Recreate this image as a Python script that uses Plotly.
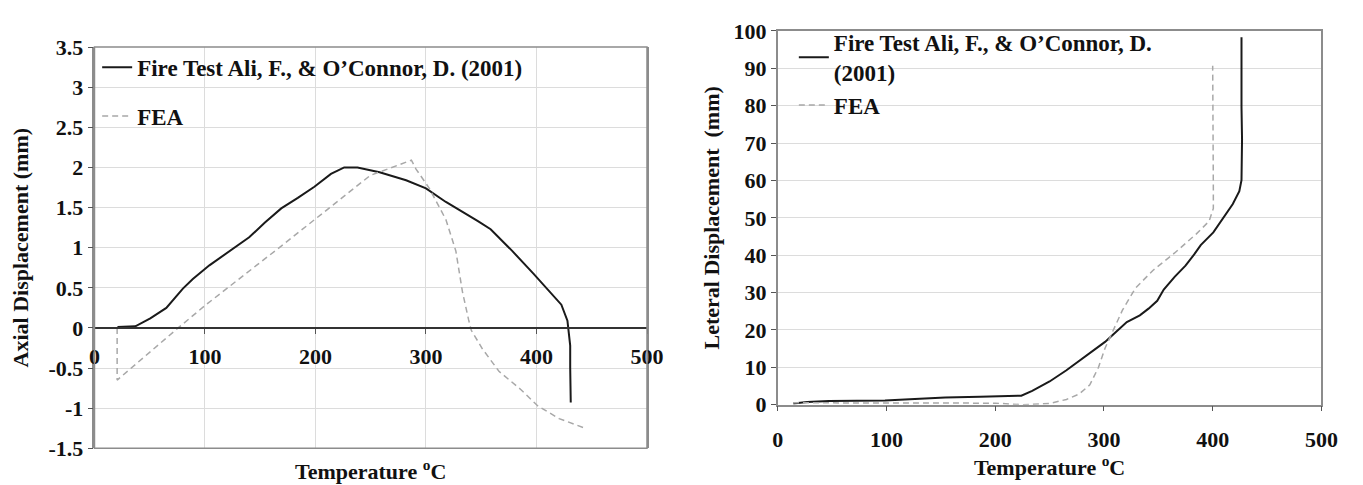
import plotly.graph_objects as go

# Axial displacement vs temperature
axial_test_T = [20.8, 37, 50.5, 65, 80, 89, 104, 122, 140, 154, 169, 184, 199, 214, 226, 238,
                258, 282, 300, 318, 333, 347, 358.5, 378, 397, 413, 422.5, 428, 430.5, 430.5, 431]
axial_test_d = [0.01, 0.02, 0.12, 0.25, 0.49, 0.61, 0.78, 0.96, 1.13, 1.31, 1.49, 1.62, 1.76, 1.92,
                2.0, 2.0, 1.94, 1.84, 1.74, 1.57, 1.45, 1.33, 1.23, 0.96, 0.68, 0.44, 0.29, 0.09,
                -0.22, -0.5, -0.93]
axial_fea_T = [20.5, 20.5, 75.7, 101, 169, 249.5, 286.8, 291, 303, 318, 327, 333, 338.6, 341,
               351, 366, 386, 401, 420.5, 444]
axial_fea_d = [0.0, -0.65, 0.0, 0.29, 1.02, 1.9, 2.09, 1.98, 1.74, 1.35, 0.96, 0.45, 0.1, -0.03,
               -0.26, -0.54, -0.77, -0.97, -1.13, -1.25]

# Lateral displacement vs temperature
lateral_test_T = [14.3, 27, 47, 67, 98.6, 126, 154, 186, 218, 224, 234, 250, 265.5, 277, 289, 301,
                  309, 321, 333, 341, 349, 355, 365, 375, 383, 389, 400.6, 408.6, 418.5, 424.5,
                  426.5, 427, 426.5, 426.5]
lateral_test_d = [0.3, 0.7, 1.0, 1.0, 1.1, 1.5, 1.9, 2.1, 2.2, 2.4, 3.7, 6.2, 9.2, 11.7, 14.4, 16.8,
                  18.9, 22.1, 23.9, 25.7, 27.8, 30.8, 34.2, 37.2, 40.2, 42.7, 46.1, 49.5, 53.7, 57.1,
                  60.1, 71.1, 79.6, 98.3]
lateral_fea_T = [14, 100, 200, 225, 250, 265.5, 277, 287, 295, 301, 309, 317, 329, 345, 365, 385,
                 396.7, 400.6, 400.6, 400]
lateral_fea_d = [0.5, 0.5, 0.4, 0.0, 0.3, 1.4, 2.8, 5.3, 10.0, 15.1, 20.2, 25.3, 31.2, 35.9, 40.6,
                 45.7, 49.1, 52.5, 57.6, 90.7]

# Tick labels
axial_ticks = [3.5, 3, 2.5, 2, 1.5, 1, 0.5, 0, -0.5, -1, -1.5]
axial_tick_text = ["3.5", "3", "2.5", "2", "1.5", "1", "0.5", "0", "-0.5", "-1", "-1.5"]
temp_ticks = [0, 100, 200, 300, 400, 500]
lateral_ticks = [0, 10, 20, 30, 40, 50, 60, 70, 80, 90, 100]

TEST_NAME = "Fire Test Ali, F., & O\u2019Connor, D. (2001)"
TEMP_TITLE = "Temperature <sup>o</sup>C"
FONT = "Liberation Serif"
GRID = "#dcdcdc"
FRAME = "#8c8c8c"
BLACK = "#1a1a1a"
FEA_COL = "#a8a8a8"
FEA_DASH = "6px,4px"

fig = go.Figure()

fig.add_trace(go.Scatter(x=axial_test_T, y=axial_test_d, mode="lines", name=TEST_NAME,
                         line=dict(color=BLACK, width=2),
                         xaxis="x", yaxis="y", legend="legend", legendgroup="a1"))
fig.add_trace(go.Scatter(x=axial_fea_T, y=axial_fea_d, mode="lines", name="FEA",
                         line=dict(color=FEA_COL, width=1.5, dash=FEA_DASH),
                         xaxis="x", yaxis="y", legend="legend", legendgroup="a2"))
fig.add_trace(go.Scatter(x=lateral_test_T, y=lateral_test_d, mode="lines",
                         name="Fire Test Ali, F., & O\u2019Connor, D.<br>(2001)",
                         line=dict(color=BLACK, width=2),
                         xaxis="x2", yaxis="y2", legend="legend2"))
fig.add_trace(go.Scatter(x=lateral_fea_T, y=lateral_fea_d, mode="lines", name="FEA",
                         line=dict(color=FEA_COL, width=1.5, dash=FEA_DASH),
                         xaxis="x2", yaxis="y2", legend="legend2"))

L_X = [90 / 1363, 652 / 1363]
L_Y = [1 - 460 / 485, 1 - 37 / 485]
R_X = [785 / 1363, 1338 / 1363]
R_Y = [1 - 414 / 485, 1 - 20 / 485]
# the left temperature axis crosses the displacement axis at 0
zero_pos = L_Y[0] + (0 - (-1.5)) / 5 * (L_Y[1] - L_Y[0])

tick_font = dict(family=FONT, size=22, color="#111111", weight="bold")
title_font = dict(family=FONT, size=22, color="#111111", weight="bold")
legend_font = dict(family=FONT, size=23, color="#111111", weight="bold")

fig.update_layout(
    width=1363, height=485,
    margin=dict(l=0, r=0, t=0, b=0),
    paper_bgcolor="white", plot_bgcolor="white",
    font=dict(family=FONT, size=22, color="#111111", weight="bold"),
    showlegend=True,
    xaxis=dict(domain=L_X, anchor="free", position=zero_pos, range=[0, 500],
               tickvals=temp_ticks, ticks="outside", ticklen=5, tickcolor="#555555",
               showgrid=True, gridcolor=GRID, showline=True, linecolor="#333333",
               linewidth=1.5, zeroline=False, tickfont=tick_font, ticklabelstandoff=4),
    yaxis=dict(domain=L_Y, anchor="x", range=[-1.5, 3.5], tickvals=axial_ticks,
               ticktext=axial_tick_text, ticks="outside", ticklen=5, tickcolor="#555555",
               showgrid=True, gridcolor=GRID, showline=True, mirror=True, linecolor=FRAME,
               linewidth=1.5, zeroline=False, tickfont=tick_font,
               title=dict(text="Axial Displacement (mm)", font=title_font, standoff=14)),
    xaxis2=dict(domain=R_X, anchor="y2", range=[0, 500], tickvals=temp_ticks,
                ticks="outside", ticklen=5, tickcolor="#555555", showgrid=False,
                showline=True, mirror=True, linecolor=FRAME, linewidth=1.5, zeroline=False,
                tickfont=tick_font, ticklabelstandoff=9,
                title=dict(text=TEMP_TITLE, font=title_font, standoff=6)),
    yaxis2=dict(domain=R_Y, anchor="x2", range=[0, 100], tickvals=lateral_ticks,
                ticks="outside", ticklen=5, tickcolor="#555555", showgrid=True, gridcolor=GRID,
                showline=True, mirror=True, linecolor=FRAME, linewidth=1.5, zeroline=False,
                tickfont=tick_font,
                title=dict(text="Leteral Displacement\u00a0 (mm)", font=title_font, standoff=8)),
    legend=dict(x=L_X[0] + 0.002, y=L_Y[1] + 0.003, xanchor="left", yanchor="top",
                bgcolor="rgba(0,0,0,0)", traceorder="grouped", tracegroupgap=16,
                itemwidth=30, font=legend_font),
    legend2=dict(x=R_X[0] + 0.012, y=R_Y[1] + 0.022, xanchor="left", yanchor="top",
                 bgcolor="rgba(0,0,0,0)", itemwidth=30, font=legend_font),
    shapes=[dict(type="rect", xref="x domain", yref="y domain", x0=0, x1=1, y0=0, y1=1,
                 line=dict(color=FRAME, width=1.5), layer="above")],
    annotations=[dict(text=TEMP_TITLE, xref="x domain", yref="paper", x=0.5,
                      y=1 - 473 / 485, xanchor="center", yanchor="middle", yshift=-9,
                      showarrow=False, font=title_font)],
)

fig.write_html("out.html")
